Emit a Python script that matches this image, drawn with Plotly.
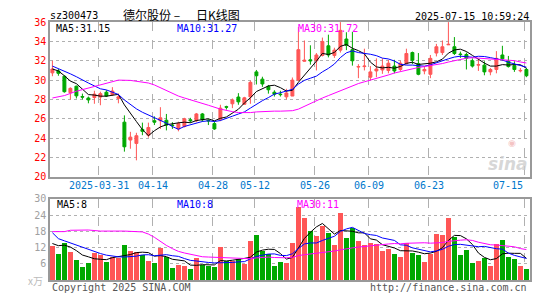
import plotly.graph_objects as go
import pandas as pd

W, H = 545, 300

# ---------------- data ----------------
opens = [30.75, 30.95, 30.4, 28.7, 29.37, 28.3, 28.15, 28.2, 28.25, 28.75,
         28.5, 28.1, 25.65, 23.8, 23.45, 24.9, 24.3, 25.8, 25.8, 25.85,
         25.35, 24.95, 25.2, 25.9, 25.8, 26.5, 25.85, 25.5, 25.95, 27.25,
         27.55, 28.25, 27.5, 28.27, 30.85, 30.1, 29.35, 28.75, 28.55, 28.27,
         28.35, 30.0, 31.95, 32.1, 32.0, 32.55, 33.55, 32.55, 33.1, 34.25,
         33.15, 31.35, 31.4, 30.3, 30.95, 31.05, 31.0, 31.45, 31.1, 31.7,
         32.85, 31.7, 30.95, 30.6, 32.8, 32.85, 33.65, 33.45, 32.7, 32.65,
         32.0, 31.55, 31.55, 30.85, 31.1, 32.6, 31.95, 31.5, 30.95, 31.1]
highs = [32.0, 31.15, 30.5, 29.25, 29.43, 28.6, 28.3, 28.9, 28.8, 28.95,
         29.27, 28.6, 26.35, 24.65, 24.55, 25.6, 25.6, 26.25, 27.2, 26.5,
         25.65, 25.7, 26.1, 26.1, 26.6, 26.6, 25.95, 25.75, 27.45, 27.35,
         28.1, 28.65, 28.27, 29.95, 31.05, 30.35, 29.5, 28.95, 28.9, 29.1,
         30.27, 35.5, 34.1, 33.6, 32.8, 34.4, 34.7, 33.35, 36.0, 34.95,
         35.0, 31.65, 33.25, 31.45, 32.25, 32.25, 32.1, 32.1, 32.0, 33.25,
         32.95, 32.8, 31.45, 32.6, 33.75, 34.1, 36.0, 34.45, 32.95, 32.85,
         32.25, 32.15, 31.95, 31.25, 33.0, 33.55, 32.5, 31.95, 31.25, 31.25]
lows = [30.4, 30.45, 28.7, 28.0, 28.1, 28.0, 27.6, 27.55, 27.4, 28.25,
        28.4, 27.6, 22.6, 22.9, 21.7, 24.3, 24.05, 25.35, 24.95, 24.8,
        24.95, 24.7, 25.1, 25.6, 25.65, 25.7, 25.35, 24.85, 25.75, 26.95,
        27.1, 27.45, 27.45, 27.55, 29.55, 29.3, 28.6, 28.3, 28.3, 28.0,
        28.55, 29.9, 31.9, 31.6, 31.0, 32.45, 32.35, 32.3, 32.85, 33.1,
        31.5, 30.2, 31.0, 30.0, 30.3, 30.65, 30.7, 30.7, 30.95, 31.6,
        31.65, 30.5, 30.6, 30.2, 32.45, 32.6, 33.65, 32.6, 32.3, 31.1,
        31.3, 30.95, 30.5, 30.5, 30.7, 32.0, 31.3, 30.85, 30.8, 30.3]
closes = [31.15, 30.7, 28.8, 29.15, 28.37, 28.24, 27.95, 28.55, 28.6, 28.35,
          28.87, 28.27, 23.1, 24.1, 24.25, 24.7, 25.1, 25.65, 26.1, 25.35,
          25.3, 25.5, 26.0, 25.8, 26.5, 25.9, 25.78, 24.95, 27.1, 27.2,
          27.95, 27.75, 28.17, 29.77, 30.45, 29.6, 29.0, 28.55, 28.5, 28.67,
          30.0, 33.15, 32.05, 32.0, 32.6, 34.0, 32.6, 33.1, 35.15, 33.6,
          32.0, 31.4, 31.45, 30.85, 31.15, 31.45, 31.75, 30.95, 31.75, 32.75,
          32.05, 30.6, 31.1, 32.25, 33.45, 33.45, 33.7, 32.75, 32.65, 32.25,
          31.45, 31.6, 30.85, 31.1, 32.25, 32.2, 31.4, 31.1, 31.0, 30.45]
volumes = [12.8, 9.8, 13.8, 10.4, 7.55, 4.68, 6.47, 10.2, 9.47, 6.83,
           8.4, 8.0, 13.07, 10.8, 10.4, 9.23, 7.2, 6.47, 11.87, 8.4,
           4.43, 5.64, 5.04, 4.07, 8.0, 5.64, 5.4, 4.8, 12.2, 7.2,
           7.0, 7.8, 5.8, 14.4, 16.66, 10.6, 9.5, 5.4, 6.8, 6.35,
           13.67, 27.0, 23.0, 18.2, 16.4, 20.0, 17.3, 13.07, 24.8, 15.6,
           19.4, 14.4, 13.07, 13.67, 13.4, 10.8, 11.6, 9.8, 8.63, 13.67,
           10.0, 9.47, 6.83, 9.8, 17.0, 16.66, 23.0, 16.07, 9.47, 11.0,
           6.2, 7.2, 8.0, 5.04, 13.2, 15.0, 8.4, 7.67, 5.04, 4.07]

# moving-average values before enough history is visible
ma5_early_idx = [0, 1, 2, 3]
ma5_early_val = [31.15, 30.95, 30.45, 29.9]
ma10_early_idx = [0, 1, 2, 3, 4, 5, 6, 7, 8]
ma10_early_val = [31.45, 31.2, 30.95, 30.65, 30.35, 30.0, 29.7, 29.4, 29.1]
ma30_early_idx = [0, 2, 4, 6, 8, 10, 11, 13, 15, 16, 17, 18, 19, 20, 21, 22, 24, 26, 28]
ma30_early_val = [28.15, 28.4, 28.85, 29.2, 29.5, 29.85, 30.0, 29.97, 29.8, 29.7,
                  29.5, 29.2, 28.9, 28.6, 28.35, 28.15, 27.8, 27.4, 27.0]

vma5_early_idx = [0, 1, 2, 3]
vma5_early_val = [13.5, 12.7, 12.9, 12.2]
vma10_early_idx = [0, 1, 2, 3, 4, 5, 6, 7, 8]
vma10_early_val = [17.5, 15.3, 14.5, 13.7, 12.9, 12.2, 11.2, 10.4, 9.8]
vma30_early_idx = [0, 2, 3, 6, 8, 12, 15, 16, 17, 18, 19, 20, 21, 22, 23, 24, 25, 26, 28]
vma30_early_val = [17.9, 17.9, 18.4, 18.5, 18.1, 18.1, 17.8, 17.0, 15.8, 14.2,
                   12.8, 11.6, 10.6, 10.0, 9.5, 9.0, 8.6, 8.5, 8.3]

date_labels = ["2025-03-31", "04-14", "04-28", "05-12", "05-26", "06-09", "06-23", "07-15"]
date_idx = [8, 17, 27, 34, 44, 53, 63, 79]

price_ticks = [20, 22, 24, 26, 28, 30, 32, 34, 36]
vol_ticks = [6, 12, 18, 24, 30]

# ---------------- styles ----------------
RED = "#ff5656"
GREEN = "#00a800"
MONO = "DejaVu Sans Mono"
CJK = "Noto Sans CJK SC"
GRID = "#b0b0b0"
FRAME = "#999999"

n = len(closes)
idx = list(range(n))


def ma_series(values, window, early_idx, early_val):
    s = pd.Series(values).rolling(window).mean()
    xs = list(early_idx) + [i for i in idx if i >= window - 1]
    ys = list(early_val) + [float(s[i]) for i in idx if i >= window - 1]
    return xs, ys


fig = go.Figure()

fig.add_trace(go.Candlestick(
    x=idx, open=opens, high=highs, low=lows, close=closes,
    increasing=dict(line=dict(color=RED, width=1), fillcolor=RED),
    decreasing=dict(line=dict(color=GREEN, width=1), fillcolor=GREEN),
    whiskerwidth=0, xaxis="x", yaxis="y", showlegend=False, hoverinfo="skip"))

for (w, ei, ev, col) in [(5, ma5_early_idx, ma5_early_val, "#000000"),
                         (10, ma10_early_idx, ma10_early_val, "#0000ff"),
                         (30, ma30_early_idx, ma30_early_val, "#ff00ff")]:
    xs, ys = ma_series(closes, w, ei, ev)
    fig.add_trace(go.Scatter(x=xs, y=ys, mode="lines", line=dict(color=col, width=1),
                             xaxis="x", yaxis="y", showlegend=False, hoverinfo="skip"))

vcolors = [RED if c > o else GREEN for o, c in zip(opens, closes)]
fig.add_trace(go.Bar(x=idx, y=volumes, marker=dict(color=vcolors, line=dict(width=0)),
                     width=0.8, xaxis="x2", yaxis="y2", showlegend=False, hoverinfo="skip"))

for (w, ei, ev, col) in [(5, vma5_early_idx, vma5_early_val, "#000000"),
                         (10, vma10_early_idx, vma10_early_val, "#0000ff"),
                         (30, vma30_early_idx, vma30_early_val, "#ff00ff")]:
    xs, ys = ma_series(volumes, w, ei, ev)
    fig.add_trace(go.Scatter(x=xs, y=ys, mode="lines", line=dict(color=col, width=1),
                             xaxis="x2", yaxis="y2", showlegend=False, hoverinfo="skip"))

xdom = [50 / W, 530 / W]
xrange_ = [-0.4, n - 0.4]
grid_x = [i - 0.28 for i in date_idx]


def py(p):
    return 1 - p / H


xcommon = dict(domain=xdom, range=xrange_, tickvals=grid_x, showticklabels=False,
               showgrid=True, gridcolor=GRID, griddash="dash", gridwidth=1,
               showline=True, mirror=True, linecolor=FRAME, linewidth=1.5,
               zeroline=False, ticks="", fixedrange=True)

fig.update_layout(
    width=W, height=H, margin=dict(l=0, r=0, t=0, b=0),
    paper_bgcolor="white", plot_bgcolor="white",
    bargap=0, showlegend=False,
    xaxis=dict(**xcommon, anchor="y", rangeslider=dict(visible=False)),
    yaxis=dict(domain=[py(177.7), py(17.7)], range=[20, 36], tickvals=price_ticks,
               tickfont=dict(family=MONO, size=10, color="#ff0000"),
               showgrid=True, gridcolor=GRID, griddash="dot", gridwidth=1,
               showline=True, mirror=True, linecolor=FRAME, linewidth=1.5,
               zeroline=False, ticks="", anchor="x"),
    xaxis2=dict(**xcommon, anchor="y2"),
    yaxis2=dict(domain=[py(284.5), py(200.6)], range=[0, 30], tickvals=vol_ticks,
                tickfont=dict(family=MONO, size=10, color="#a0a0a0"),
                showgrid=True, gridcolor=GRID, griddash="dot", gridwidth=1,
                showline=True, mirror=True, linecolor=FRAME, linewidth=1.5,
                zeroline=False, ticks="", anchor="x2"),
)

ann = []


def text(x, y, s, color="#000", size=10, family=MONO, xanchor="left", xref="paper"):
    ann.append(dict(x=x if xref != "paper" else x / W, y=py(y), xref=xref, yref="paper",
                    text=s, showarrow=False, xanchor=xanchor, yanchor="middle",
                    font=dict(family=family, size=size, color=color)))


text(48, 11, "sz300473", size=10)
text(121, 9.5, "德尔股份 –", size=12, family=CJK)
text(194, 9.5, "日K线图", size=12, family=CJK)
text(531, 12, "2025-07-15 10:59:24", size=10, xanchor="right")

text(54, 24, "MA5:31.15", color="#000000")
text(175, 24, "MA10:31.27", color="#0000ff")
text(296, 24, "MA30:31.72", color="#ff00ff")

text(55, 206.7, "MA5:8", color="#000000")
text(175, 206.7, "MA10:8", color="#0000ff")
text(295, 206.7, "MA30:11", color="#ff00ff")

for lab, gx in zip(date_labels, grid_x):
    ann.append(dict(x=gx, y=py(187.2), xref="x", yref="paper", text=lab, showarrow=False,
                    xanchor="right" if gx == grid_x[-1] else "center", yanchor="middle",
                    font=dict(family=MONO, size=10, color="#0077cc")))

text(45, 285, "x万", color="#bbbbbb", size=10, family=CJK, xanchor="right")
text(50, 292.7, "Copyright 2025 SINA.COM", color="#555555")
text(529, 292.7, "http://finance.sina.com.cn", color="#555555", xanchor="right")
text(530, 164, "<i><b>sina</b></i>", color="rgba(205,205,205,0.8)", size=17,
     family="DejaVu Sans", xanchor="right")
text(512, 143, "◉", color="rgba(240,170,170,0.7)", size=9,
     family="DejaVu Sans", xanchor="center")

fig.update_layout(annotations=ann)
fig.write_html("out.html")
